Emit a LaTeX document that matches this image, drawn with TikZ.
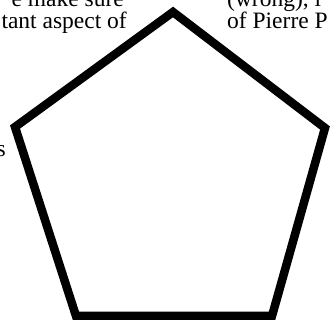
\documentclass[tikz,border=0pt]{standalone}
\usepackage{fontspec}
\setmainfont{Liberation Serif}
\begin{document}
\begin{tikzpicture}[x=1pt,y=-1pt,
  edge/.style={line width=8.5pt,line join=miter,miter limit=10},
  lbl/.style={inner sep=0pt,font=\fontsize{23.5}{26}\selectfont}]
\useasboundingbox (0,0) rectangle (330,320);
\clip (0,0) rectangle (330,320);
\coordinate (t) at (173,12);
\coordinate (r) at (325,128);
\coordinate (br) at (272,316);
\coordinate (bl) at (76,316);
\coordinate (l) at (15,127);
\draw[edge] (t) -- (r) -- (br) -- (bl) -- (l) -- cycle;
\node[lbl,anchor=base east] (a1) at (124,7) {e make sure};
\node[lbl,anchor=base east] (a2) at (127,28.5) {tant aspect of};
\node[lbl,anchor=base west] (b1) at (227,7) {(wrong), i};
\node[lbl,anchor=base west] (b2) at (227,28.5) {of Pierre P};
\node[lbl,anchor=base east] (c1) at (6,157) {s};
\end{tikzpicture}
\end{document}
